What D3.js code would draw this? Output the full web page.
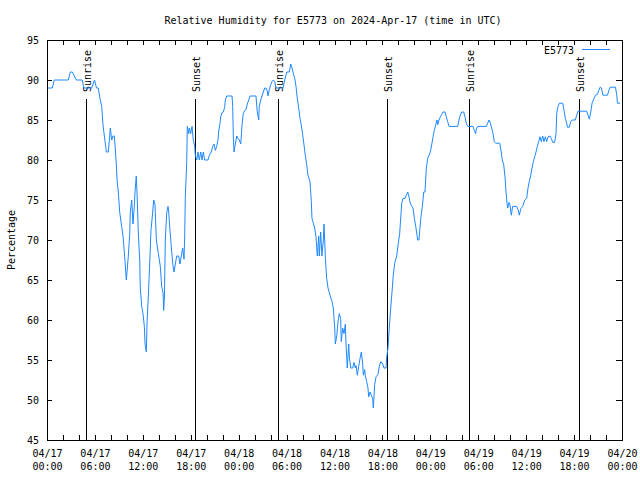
<!DOCTYPE html>
<html>
<head>
<meta charset="utf-8">
<script src="https://cdn.jsdelivr.net/npm/d3@7"></script>
<style>
  html, body { margin: 0; padding: 0; background: #fff; }
  svg { display: block; }
  text { font-family: "DejaVu Sans Mono", "Liberation Mono", monospace; }
</style>
</head>
<body>
<svg id="chart" width="640" height="480"></svg>
<script>
// ---------- data ----------
const chartTitle = "Relative Humidity for E5773 on 2024-Apr-17 (time in UTC)";
const seriesName = "E5773";
const yLabel = "Percentage";
const startDate = "2024-04-17T00:00:00Z";
const spanHours = 72;
const yTicks = [45, 50, 55, 60, 65, 70, 75, 80, 85, 90, 95];

// hours since 2024-04-17 00:00 UTC
const hours = [
  0.09, 0.66, 0.91, 2.67, 2.92, 3.17, 3.67, 4.42, 4.60, 5.59, 5.95, 6.20, 6.42,
  6.67, 6.85, 6.92, 7.01, 7.18, 7.35, 7.43, 7.68, 7.85, 7.93, 8.10, 8.26, 8.43, 8.51,
  8.68, 8.77, 8.93, 9.10, 9.35, 9.52, 9.68, 9.77, 9.93, 10.02, 10.18, 10.36, 10.43,
  10.61, 10.77, 10.93, 11.02, 11.18, 11.27, 11.43, 11.61, 11.68, 11.86, 12.02, 12.19,
  12.28, 12.44, 12.53, 12.69, 12.86, 13.02, 13.19, 13.36, 13.52, 13.69, 13.94, 14.19,
  14.36, 14.53, 14.61, 14.71, 14.81, 14.99, 15.15, 15.24, 15.40, 15.56, 15.74, 15.90,
  16.07, 16.24, 16.49, 16.65, 16.82, 16.99, 17.16, 17.24, 17.32, 17.49, 17.57, 17.74,
  17.82, 17.99, 18.16, 18.32, 18.49, 18.57, 18.75, 18.91, 19.07, 19.25, 19.41, 19.57,
  19.75, 19.91, 20.16, 20.32, 20.57, 20.75, 20.91, 21.08, 21.25, 21.41, 21.50, 21.66,
  21.75, 21.91, 22.08, 22.25, 22.33, 22.50, 23.17, 23.25, 23.33, 23.42, 23.58, 23.76,
  23.92, 24.08, 24.26, 24.33, 24.42, 24.58, 24.76, 24.92, 25.08, 25.26, 25.42, 26.17,
  26.33, 26.51, 26.58, 26.76, 26.92, 27.09, 27.26, 27.42, 27.59, 27.67, 27.84, 28.01,
  28.17, 28.34, 28.51, 28.68, 29.34, 29.55, 29.77, 30.02, 30.34, 30.52, 30.68, 30.85,
  31.02, 31.18, 31.34, 31.52, 31.68, 31.84, 32.02, 32.18, 32.34, 32.52, 32.68, 32.93,
  33.10, 33.18, 33.35, 33.52, 33.68, 33.85, 34.02, 34.10, 34.27, 34.43, 34.60, 34.69,
  34.86, 35.02, 35.19, 35.44, 35.69, 35.85, 36.03, 36.10, 36.28, 36.44, 36.60, 36.77,
  36.85, 37.02, 37.19, 37.36, 37.44, 37.60, 37.78, 37.85, 38.03, 38.28, 38.44, 38.61,
  38.70, 38.86, 39.03, 39.20, 39.36, 39.53, 39.61, 39.78, 39.86, 40.03, 40.19, 40.28,
  40.45, 40.61, 40.78, 40.86, 41.03, 41.20, 41.45, 41.61, 41.79, 42.04, 42.20, 42.45,
  42.54, 42.70, 42.86, 43.04, 43.20, 43.36, 43.54, 43.79, 43.99, 44.16, 44.33, 44.42,
  44.58, 44.83, 45.00, 45.17, 45.33, 45.49, 45.67, 45.83, 46.00, 46.17, 46.33, 46.42,
  46.58, 46.67, 46.83, 47.00, 47.17, 47.33, 47.50, 47.67, 47.84, 48.00, 48.17, 48.34,
  48.50, 48.67, 48.84, 48.92, 49.09, 49.25, 49.42, 49.59, 49.84, 50.00, 50.17, 50.34,
  51.43, 51.59, 51.75, 51.93, 52.18, 52.34, 52.50, 52.68, 53.34, 53.51, 53.68, 53.76,
  53.93, 55.01, 55.18, 55.35, 55.51, 55.68, 55.85, 56.01, 56.18, 56.69, 56.85, 57.01,
  57.19, 57.35, 57.44, 57.60, 57.69, 57.85, 57.97, 58.14, 58.31, 58.81, 58.98, 59.14,
  59.32, 59.57, 59.82, 60.07, 60.23, 60.39, 60.57, 60.73, 60.90, 61.07, 61.23, 61.40,
  61.57, 61.73, 61.90, 62.07, 62.23, 62.40, 62.57, 62.74, 62.99, 63.15, 63.32, 63.57,
  63.74, 63.82, 63.99, 64.15, 64.58, 64.74, 64.90, 65.08, 65.16, 65.41, 65.58, 65.75,
  66.15, 66.33, 66.49, 67.58, 67.75, 67.91, 68.09, 68.25, 68.50, 68.67, 68.92, 69.10,
  69.26, 69.43, 69.60, 70.18, 70.35, 70.51, 71.18, 71.35, 71.43, 71.76
];

// relative humidity, percent
const humidity = [
  89, 89, 90, 90, 91, 91, 90, 90, 89, 89, 90, 89, 89,
  87.5, 86.7, 85.8, 84.4, 83, 81.7, 81, 81, 83, 84, 82.5, 83, 83, 82,
  79.5, 77.5, 76, 73.5, 71.7, 70.5, 68.5, 67.3, 65, 66, 68, 70.8, 73.5,
  75, 72, 74.2, 76, 78, 76, 71, 67.5, 64, 61.7, 60.8, 59.2,
  57, 56, 59.8, 63, 67, 71.2, 73, 75, 74.5, 70, 68.3, 66.7,
  64.2, 63.4, 61.2, 63, 70, 73.4, 74.2, 73.5, 71.2, 69.2, 67.1, 66,
  67, 68, 68, 67, 68, 69, 67.6, 70.4, 75.4, 79.6, 84.2, 83.3,
  84, 83.3, 84.2, 82.5, 81.7, 80.6, 80, 81, 80, 81, 80, 81,
  80, 80, 80, 80.6, 81, 81.7, 82, 81.2, 81.7, 82.5, 83.5, 84.6,
  85.4, 85.9, 86, 86.6, 87.5, 88, 88, 86.7, 83, 81, 82, 83,
  82.7, 82.5, 82, 83, 84.4, 85.8, 86.2, 86.3, 87, 87.5, 88, 88,
  86, 85, 86.7, 87.5, 88, 88.5, 89, 89, 88.6, 88, 88.8, 89.4,
  89.8, 90, 89.8, 89, 89, 89, 90, 91, 91, 92, 91.5, 90.8,
  90.2, 89.2, 87.7, 86.5, 85.2, 84.4, 83.1, 81.9, 80.6, 79.4, 78.1, 77.3,
  74.8, 72.7, 72.1, 71.5, 70.4, 68, 70.5, 68, 71, 68, 70, 72,
  67.7, 65.2, 64, 63.1, 62.3, 61.5, 59, 57, 58, 59.8, 60.8, 60.2,
  57.3, 59, 58.3, 59.5, 57, 54, 57, 55.5, 54, 54, 54.7, 54,
  54.3, 53.1, 54.2, 55.2, 56, 54.5, 53.1, 53.8, 53, 52.3, 51.5, 50.4,
  51, 50.6, 50.2, 49, 51.9, 52.9, 53.2, 54.2, 54.8, 54.5, 54, 54,
  55.4, 56.5, 59, 61.5, 63.5, 65.6, 67.1, 68, 69.6, 70.8, 73.3, 74.6,
  75.2, 75.2, 75.6, 76, 75.4, 74.6, 74.2, 74, 72.7, 71.7, 70.6, 70,
  70, 71.2, 72.9, 74.2, 76, 76, 79, 80.2, 80.6, 81, 81.9, 82.9,
  83.7, 84.4, 85, 84.4, 85, 85.4, 85.7, 86, 86, 85.4, 84.8, 84.2,
  84.2, 85, 85.6, 86, 86, 85.4, 84.6, 84.2, 84.2, 83.7, 83.3, 83.9,
  84.2, 84.2, 84.6, 85, 84.6, 84, 83.3, 82.3, 82.1, 82.1, 81.2, 80,
  79.4, 77.9, 76.5, 74.6, 74, 74.7, 74.4, 73.1, 74.2, 74.2, 73.8, 73.1,
  73.9, 74.2, 75, 75.2, 76.5, 77.3, 78.1, 79, 79.8, 80.4, 81, 81.7,
  82.3, 82.9, 82.3, 83, 82.3, 82.9, 82.3, 82.9, 83, 82.7, 82.2, 82.2,
  83.3, 85.8, 86.7, 87.1, 87.1, 86.2, 85.2, 84.6, 84.1, 84.1, 84.8, 85,
  85, 85.6, 86.1, 86.1, 85.6, 85.1, 86, 87.1, 87.7, 88.1, 88.2, 88.7,
  89.1, 89, 88.1, 88.1, 88.7, 89.1, 89.1, 88.1, 87.1, 87.1
];

// sunrise / sunset markers (hours since start)
const sunHours = [4.92, 18.57, 28.96, 42.66, 52.88, 66.65];
const sunLabels = ["Sunrise", "Sunset", "Sunrise", "Sunset", "Sunrise", "Sunset"];

// ---------- drawing ----------
const t0 = new Date(startDate);
const toDate = h => new Date(t0.getTime() + h * 3600e3);
const data = hours.map((h, i) => ({ t: toDate(h), v: humidity[i] }));

const L = 47, R = 622, T = 40, B = 440;
const svg = d3.select("#chart");
svg.append("rect").attr("width", 640).attr("height", 480).attr("fill", "#fff");

const x = d3.scaleUtc().domain([t0, toDate(spanHours)]).range([L, R]);
const y = d3.scaleLinear().domain([45, 95]).range([B, T]);

const minorTicks = d3.utcHour.every(2).range(t0, toDate(spanHours + 0.01));
const majorTicks = d3.utcHour.every(6).range(t0, toDate(spanHours + 0.01));

const fontStyle = g => g.attr("font-family", "DejaVu Sans Mono, monospace").attr("font-size", 10);

// bottom axis (ticks inward) with two-line labels
const gB = svg.append("g").attr("transform", `translate(0,${B})`).call(fontStyle)
  .call(d3.axisBottom(x).tickValues(minorTicks).tickSize(-5).tickSizeOuter(0).tickFormat(""));
gB.select(".domain").remove();
const gBL = svg.append("g").attr("transform", `translate(0,${B})`).call(fontStyle)
  .call(d3.axisBottom(x).tickValues(majorTicks).tickSize(0).tickSizeOuter(0)
    .tickFormat(d3.utcFormat("%m/%d")));
gBL.select(".domain").remove();
gBL.selectAll(".tick text").each(function(d) {
  const t = d3.select(this);
  t.text(null).attr("y", null).attr("dy", null).attr("fill", "#000");
  t.append("tspan").attr("x", 0).attr("y", 17).text(d3.utcFormat("%m/%d")(d));
  t.append("tspan").attr("x", 0).attr("y", 30).text(d3.utcFormat("%H:%M")(d));
});

// top axis (mirror ticks)
const gT = svg.append("g").attr("transform", `translate(0,${T})`)
  .call(d3.axisTop(x).tickValues(minorTicks).tickSize(-5).tickSizeOuter(0).tickFormat(""));
gT.select(".domain").remove();

// left axis
const gL = svg.append("g").attr("transform", `translate(${L},0)`).call(fontStyle)
  .call(d3.axisLeft(y).tickValues(yTicks).tickSize(-5).tickSizeOuter(0).tickPadding(8));
gL.select(".domain").remove();
gL.selectAll(".tick text").attr("fill", "#000");

// right axis
const gR = svg.append("g").attr("transform", `translate(${R},0)`)
  .call(d3.axisRight(y).tickValues(yTicks).tickSize(-6).tickSizeOuter(0).tickFormat(""));
gR.select(".domain").remove();

svg.selectAll(".tick line").attr("stroke", "#000").attr("shape-rendering", "crispEdges");

// frame
svg.append("rect")
  .attr("x", L).attr("y", T).attr("width", R - L).attr("height", B - T)
  .attr("fill", "none").attr("stroke", "#000").attr("shape-rendering", "crispEdges");

// sunrise / sunset lines and labels
const sun = svg.append("g");
sunHours.forEach((h, i) => {
  const sx = x(toDate(h));
  sun.append("line")
    .attr("x1", sx).attr("x2", sx).attr("y1", 99).attr("y2", B)
    .attr("stroke", "#000").attr("shape-rendering", "crispEdges");
  sun.append("text")
    .attr("transform", `translate(${sx + 4.5},92) rotate(-90)`)
    .attr("font-size", 10).attr("fill", "#000")
    .text(sunLabels[i]);
});

// data line
const line = d3.line().x(d => x(d.t)).y(d => y(d.v));
svg.append("path").datum(data)
  .attr("d", line)
  .attr("fill", "none")
  .attr("stroke", "#1e88ff")
  .attr("stroke-width", 1);

// legend
svg.append("text").attr("x", 574).attr("y", 54).attr("text-anchor", "end")
  .attr("font-size", 10).attr("fill", "#000").text(seriesName);
svg.append("line").attr("x1", 582).attr("x2", 610).attr("y1", 49.5).attr("y2", 49.5)
  .attr("stroke", "#1e88ff").attr("stroke-width", 1);

// title
svg.append("text").attr("x", 333).attr("y", 24).attr("text-anchor", "middle")
  .attr("font-size", 10).attr("fill", "#000").text(chartTitle);

// y label
svg.append("text").attr("transform", "translate(15,240) rotate(-90)")
  .attr("text-anchor", "middle").attr("font-size", 10).attr("fill", "#000").text(yLabel);
</script>
</body>
</html>
